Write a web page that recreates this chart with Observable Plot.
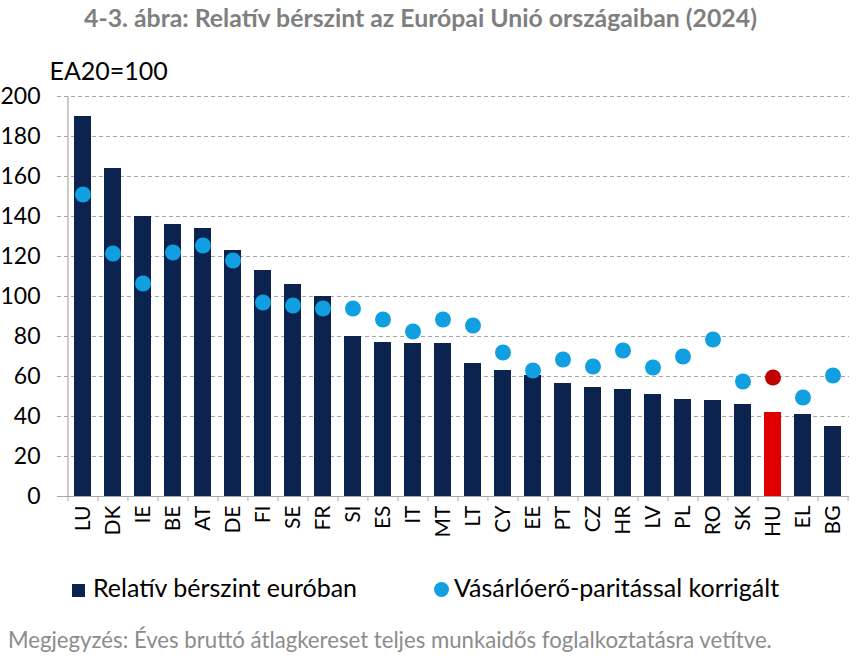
<!DOCTYPE html>
<html>
<head>
<meta charset="utf-8">
<script src="https://cdn.jsdelivr.net/npm/d3@7"></script>
<script src="https://cdn.jsdelivr.net/npm/@observablehq/plot@0.6"></script>
<style>
  body { margin: 0; background: #fff; font-family: Lato, "Open Sans", sans-serif; }
  #wrap { position: relative; width: 865px; height: 658px; }
  #title { position: absolute; top: 3px; left: -12px; width: 865px; text-align: center; font-weight: bold; font-size: 24.8px; color: #7f7f7f; }
  #chart { position: absolute; top: 40px; left: 0; }
  .leg { position: absolute; top: 572px; font-size: 25px; color: #000; white-space: nowrap; }
  .sq { display: inline-block; width: 13px; height: 13px; background: #0c2350; margin-right: 8px; }
  .ci { display: inline-block; width: 15px; height: 15px; border-radius: 50%; background: #109fe0; margin-right: 5px; }
  #note { position: absolute; top: 626px; left: 8px; font-size: 22.2px; color: #8c8c8c; white-space: nowrap; }
</style>
</head>
<body>
<div id="wrap">
  <div id="title">4-3. ábra: Relatív bérszint az Európai Unió országaiban (2024)</div>
  <div id="chart"></div>
  <div class="leg" style="left:434px"><span class="ci"></span>Vásárlóerő-paritással korrigált</div>
  <div class="leg" style="left:72px"><span class="sq"></span>Relatív bérszint euróban</div>
  <div id="note">Megjegyzés: Éves bruttó átlagkereset teljes munkaidős foglalkoztatásra vetítve.</div>
</div>
<script>
const countries = ["LU","DK","IE","BE","AT","DE","FI","SE","FR","SI","ES","IT","MT","LT","CY","EE","PT","CZ","HR","LV","PL","RO","SK","HU","EL","BG"];
const wageEuro = [190,164,140,136,134,123,113,106,100,80,77,76.5,76.5,66.5,63,60.5,56.5,54.5,53.5,51,48.5,48,46,42,41,35];
const wagePPP = [151,121.5,106.5,122,125.5,118,97,95.5,94,94,88.5,82.5,88.5,85.5,72,63,68.5,65,73,64.5,70,78.5,57.5,59.5,49.5,60.5];
const yTicks = [0,20,40,60,80,100,120,140,160,180,200];
const highlight = "HU";

const data = countries.map((c, i) => ({country: c, euro: wageEuro[i], ppp: wagePPP[i], hl: c === highlight}));

const width = 865, marginLeft = 66, marginRight = 16;
const half = (width - marginLeft - marginRight) / countries.length / 2;

const plot = Plot.plot({
  width,
  height: 516,
  marginTop: 56,
  marginBottom: 60,
  marginLeft,
  marginRight,
  style: { fontFamily: "Lato, 'Open Sans', sans-serif", background: "white" },
  x: { domain: countries, paddingInner: 0.42, paddingOuter: 0.21, label: null },
  y: { domain: [0, 200], label: null },
  marks: [
    Plot.ruleY(yTicks.slice(1), { stroke: "#a6a6a6", strokeDasharray: "4,3", insetLeft: -9 }),
    Plot.barY(data, { x: "country", y: "euro", fill: d => d.hl ? "#e00000" : "#0c2350" }),
    Plot.dot(data, { x: "country", y: "ppp", r: 8, fill: d => d.hl ? "#c00000" : "#109fe0", stroke: "none" }),
    Plot.ruleY([0], { stroke: "#a6a6a6", strokeWidth: 1.2, insetLeft: -9 }),
    Plot.ruleX([countries[0]], { x: d => d, dx: -half, y1: 0, y2: 200, stroke: "#a6a6a6", strokeWidth: 1.2 }),
    Plot.ruleX(countries, { x: d => d, dx: -half, y1: 0, y2: -2.5, stroke: "#a6a6a6" }),
    Plot.ruleX([countries[countries.length - 1]], { x: d => d, dx: half, y1: 0, y2: -2.5, stroke: "#a6a6a6" }),
    Plot.axisY(yTicks, { tickSize: 0, tickPadding: 26, fontSize: 23, fill: "#000" }),
    Plot.axisX({ tickSize: 0, tickPadding: 9, tickRotate: -90, fontSize: 21, fill: "#000" }),
    Plot.text(["EA20=100"], { frameAnchor: "top-left", dy: -34, dx: -17, textAnchor: "start", fontSize: 25, fill: "#000" })
  ]
});
document.getElementById("chart").appendChild(plot);
</script>
</body>
</html>
